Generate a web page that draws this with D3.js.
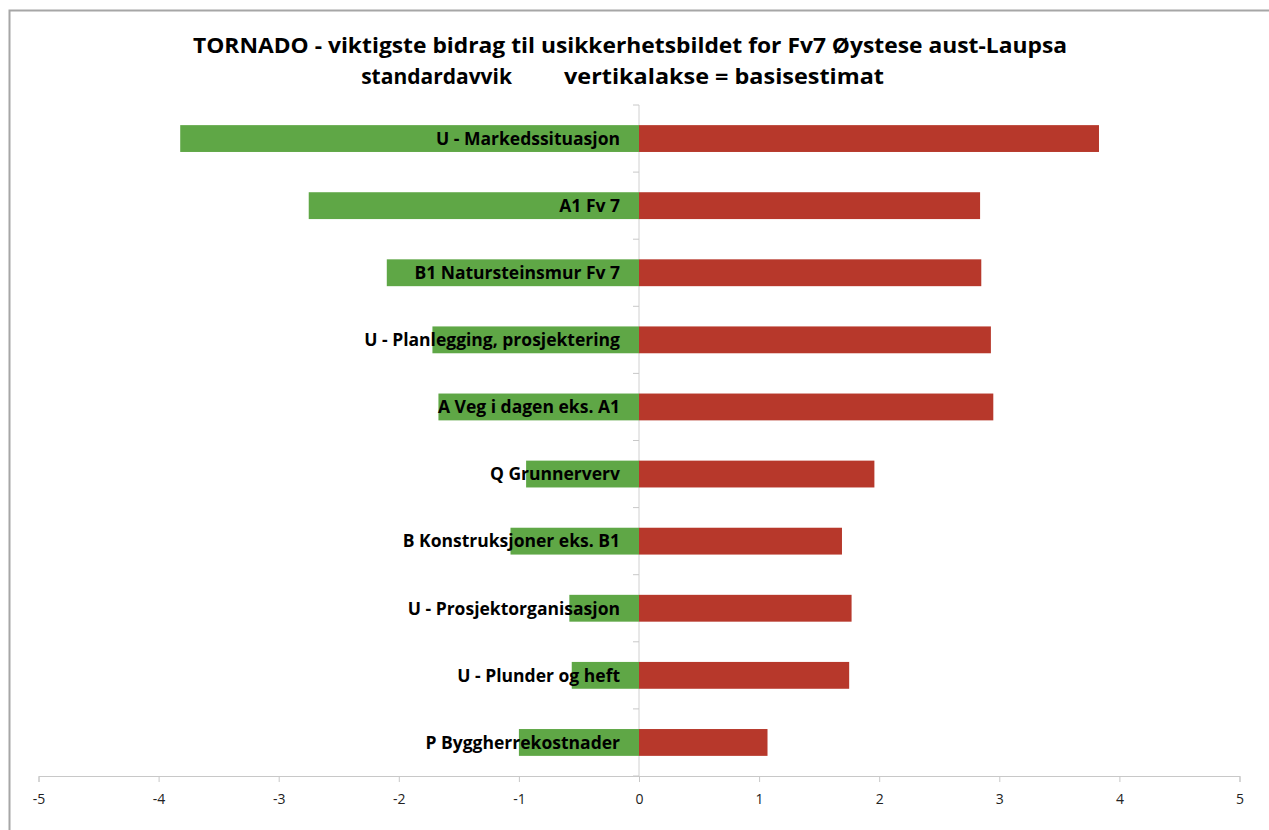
<!DOCTYPE html>
<html>
<head>
<meta charset="utf-8">
<script src="https://cdn.jsdelivr.net/npm/d3@7"></script>
<style>
  html, body { margin: 0; padding: 0; background: #fff; }
  svg { display: block; }
</style>
</head>
<body>
<svg id="chart" width="1269" height="830"></svg>
<script>
// Tornado chart: contribution of each uncertainty element (standard deviation)
const categories = [
  "U - Markedssituasjon",
  "A1 Fv 7",
  "B1 Natursteinsmur Fv 7",
  "U - Planlegging, prosjektering",
  "A Veg i dagen eks. A1",
  "Q Grunnerverv",
  "B Konstruksjoner eks. B1",
  "U - Prosjektorganisasjon",
  "U - Plunder og heft",
  "P Byggherrekostnader"
];
const lowValues  = [-3.82, -2.75, -2.10, -1.72, -1.67, -0.94, -1.07, -0.58, -0.56, -1.00];
const highValues = [ 3.83,  2.84,  2.85,  2.93,  2.95,  1.96,  1.69,  1.77,  1.75,  1.07];
const xTicks = [-5, -4, -3, -2, -1, 0, 1, 2, 3, 4, 5];
const titleLine1 = "TORNADO - viktigste bidrag til usikkerhetsbildet for Fv7 Øystese aust-Laupsa";
const titleLine2a = "standardavvik";
const titleLine2b = "vertikalakse = basisestimat";

const svg = d3.select("#chart");

// outer frame
svg.append("path")
  .attr("d", "M9.5,830 V10.5 H1269")
  .attr("fill", "none")
  .attr("stroke", "#a6a6a6")
  .attr("stroke-width", 2);

const x = d3.scaleLinear().domain([-5, 5]).range([38.5, 1239.5]);
const y = d3.scaleBand().domain(categories).range([105, 776])
  .paddingInner(0.6).paddingOuter(0.3);

const green = "#5fa746";
const red = "#b7382b";

// title
const title = svg.append("g")
  .attr("font-family", "'Open Sans', sans-serif")
  .attr("font-weight", "bold")
  .attr("font-size", 21)
  .attr("fill", "#000");
title.append("text").attr("x", 630).attr("y", 53)
  .attr("text-anchor", "middle")
  .attr("textLength", 874).attr("lengthAdjust", "spacingAndGlyphs")
  .text(titleLine1);
title.append("text").attr("x", 512).attr("y", 84)
  .attr("text-anchor", "end")
  .text(titleLine2a);
title.append("text").attr("x", 564).attr("y", 84)
  .attr("text-anchor", "start")
  .attr("textLength", 320).attr("lengthAdjust", "spacingAndGlyphs")
  .text(titleLine2b);

// vertical axis line at zero with category ticks
const x0 = x(0);
svg.append("line")
  .attr("x1", x0).attr("x2", x0)
  .attr("y1", 105).attr("y2", 776)
  .attr("stroke", "#d0d0d0").attr("stroke-width", 1);

const boundaries = d3.range(categories.length + 1).map(i => 105 + i * y.step());
svg.append("g").selectAll("line")
  .data(boundaries)
  .join("line")
  .attr("x1", x0 - 6).attr("x2", x0)
  .attr("y1", d => d).attr("y2", d => d)
  .attr("stroke", "#c8c8c8");

// bars
svg.append("g").selectAll("rect")
  .data(categories)
  .join("rect")
  .attr("x", (d, i) => x(lowValues[i]))
  .attr("y", d => y(d))
  .attr("width", (d, i) => x0 - x(lowValues[i]))
  .attr("height", y.bandwidth())
  .attr("fill", green);

svg.append("g").selectAll("rect")
  .data(categories)
  .join("rect")
  .attr("x", x0)
  .attr("y", d => y(d))
  .attr("width", (d, i) => x(highValues[i]) - x0)
  .attr("height", y.bandwidth())
  .attr("fill", red);

// category labels, right-aligned next to the zero line
svg.append("g")
  .attr("font-family", "'Open Sans', sans-serif")
  .attr("font-weight", "bold")
  .attr("font-size", 17.5)
  .attr("fill", "#000")
  .attr("text-anchor", "end")
  .selectAll("text")
  .data(categories)
  .join("text")
  .attr("x", x0 - 19)
  .attr("y", d => y(d) + y.bandwidth() / 2)
  .attr("dy", "0.36em")
  .text(d => d);

// horizontal axis
const axis = svg.append("g")
  .attr("transform", "translate(0,776)")
  .call(d3.axisBottom(x).tickValues(xTicks).tickSize(6).tickPadding(12).tickFormat(d => String(d)));
axis.select(".domain").attr("stroke", "#c8c8c8");
axis.selectAll(".tick line").attr("stroke", "#c8c8c8");
axis.selectAll(".tick text")
  .attr("font-family", "'Open Sans', sans-serif")
  .attr("font-size", 14)
  .attr("fill", "#222");
</script>
</body>
</html>
